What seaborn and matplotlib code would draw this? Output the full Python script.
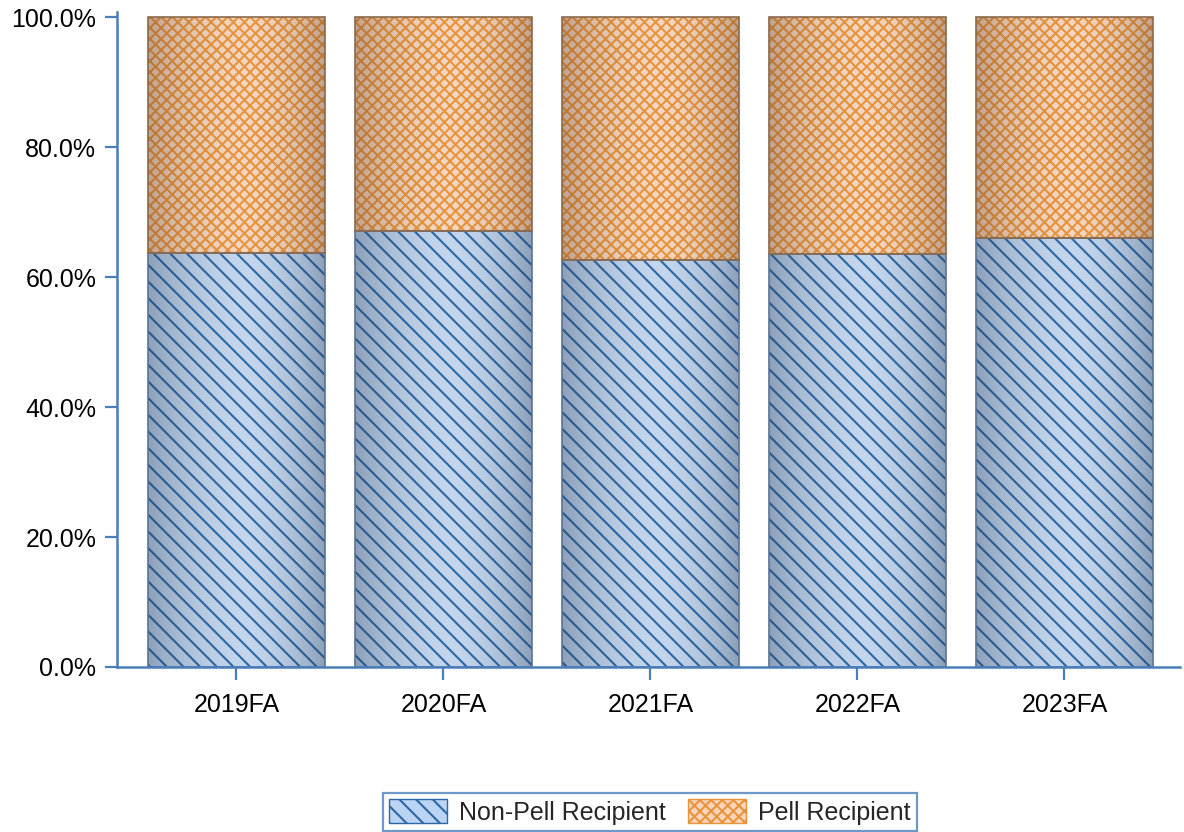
import numpy as np
import pandas as pd
import matplotlib
matplotlib.use("Agg")
import matplotlib.pyplot as plt
from matplotlib.patches import Patch, Rectangle
import seaborn as sns

# Data (share of students, %)
terms = ["2019FA", "2020FA", "2021FA", "2022FA", "2023FA"]
non_pell = [63.7, 67.1, 62.6, 63.5, 66.0]
pell = [100 - v for v in non_pell]
y_ticks = [0, 20, 40, 60, 80, 100]
y_tick_labels = ["0.0%", "20.0%", "40.0%", "60.0%", "80.0%", "100.0%"]
series_names = ["Non-Pell Recipient", "Pell Recipient"]

AXIS_BLUE = "#4a7ebb"
BLUE_FACE = "#bcd4f4"
BLUE_HATCH = "#2d68a6"
BLUE_EDGE = "#5b7396"
BLUE_SHADE = "#1f3550"
ORANGE_FACE = "#f9d6bb"
ORANGE_HATCH = "#e9943c"
ORANGE_EDGE = "#8a6a4c"
ORANGE_SHADE = "#5a3a28"
BACKSLASH = chr(92)
HATCH_BLUE = BACKSLASH * 4
HATCH_ORANGE = "x" * 6

sns.set_theme(style="white")
plt.rcParams["font.family"] = ["Liberation Sans", "DejaVu Sans"]
plt.rcParams["hatch.linewidth"] = 0.75

DPI = 200
fig = plt.figure(figsize=(1184 / DPI, 832 / DPI), dpi=DPI)
ax = fig.add_axes([117 / 1184, 165 / 832, (1180 - 117) / 1184, (667 - 12) / 832])

df = pd.DataFrame({"term": terms, "non_pell": non_pell, "pell": pell})

bar_w = 0.855
sns.barplot(data=df, x="term", y="non_pell", color=BLUE_FACE, width=bar_w,
            hatch=HATCH_BLUE, edgecolor=BLUE_HATCH, linewidth=0, ax=ax)
sns.barplot(data=df, x="term", y="pell", color=ORANGE_FACE, width=bar_w,
            hatch=HATCH_ORANGE, edgecolor=ORANGE_HATCH, linewidth=0, ax=ax)

blue_bars = ax.patches[:len(terms)]
orange_bars = ax.patches[len(terms):2 * len(terms)]

# stack pell on top of non-pell
for p, base in zip(orange_bars, non_pell):
    p.set_y(base)


def shade_bar(p, shade_color, edge_color):
    """Cylinder-like shading: darker at both sides, lighter near the middle."""
    x0, y0 = p.get_x(), p.get_y()
    w, h = p.get_width(), p.get_height()
    t = np.linspace(0, 1, 200)
    peak = 0.55
    alpha = np.where(t < peak, ((peak - t) / peak) ** 1.8, ((t - peak) / (1 - peak)) ** 1.8) * 0.33
    rgba = np.zeros((1, t.size, 4))
    rgba[..., :3] = matplotlib.colors.to_rgb(shade_color)
    rgba[..., 3] = alpha
    im = ax.imshow(rgba, extent=(x0, x0 + w, y0, y0 + h), aspect="auto",
                   interpolation="bilinear", zorder=p.get_zorder() + 0.1)
    im.set_clip_path(p)
    ax.add_patch(Rectangle((x0, y0), w, h, fill=False, edgecolor=edge_color,
                           linewidth=0.6, zorder=p.get_zorder() + 0.2))


for p in blue_bars:
    shade_bar(p, BLUE_SHADE, BLUE_EDGE)
for p in orange_bars:
    shade_bar(p, ORANGE_SHADE, ORANGE_EDGE)

# axes styling
ax.set_xlim(-0.577, 4.558)
ax.set_ylim(0, 100.8)
ax.set_yticks(y_ticks)
ax.set_yticklabels(y_tick_labels)
ax.set_xlabel("")
ax.set_ylabel("")
for side in ["top", "right"]:
    ax.spines[side].set_visible(False)
for side in ["left", "bottom"]:
    ax.spines[side].set_color(AXIS_BLUE)
    ax.spines[side].set_linewidth(0.9)
ax.tick_params(axis="both", which="major", direction="out", color=AXIS_BLUE,
               width=0.8, labelsize=9, labelcolor="black")
ax.tick_params(axis="y", length=4.3, pad=3.2, left=True)
ax.tick_params(axis="x", length=4.7, pad=4.5, bottom=True)
ax.grid(False)

# legend
handles = [
    Patch(facecolor=BLUE_FACE, edgecolor=BLUE_HATCH, hatch=HATCH_BLUE, linewidth=0.5),
    Patch(facecolor=ORANGE_FACE, edgecolor=ORANGE_HATCH, hatch=HATCH_ORANGE, linewidth=0.5),
]
leg = fig.legend(handles, series_names, loc="center", bbox_to_anchor=(650 / 1184, 1 - 812 / 832),
                 ncol=2, fontsize=9, frameon=True, fancybox=False, handlelength=2.3,
                 handleheight=1.1, handletextpad=0.5, columnspacing=0.9, borderpad=0.25,
                 borderaxespad=0)
leg.get_frame().set_edgecolor(AXIS_BLUE)
leg.get_frame().set_linewidth(0.8)

fig.savefig("out.png", dpi=DPI)
